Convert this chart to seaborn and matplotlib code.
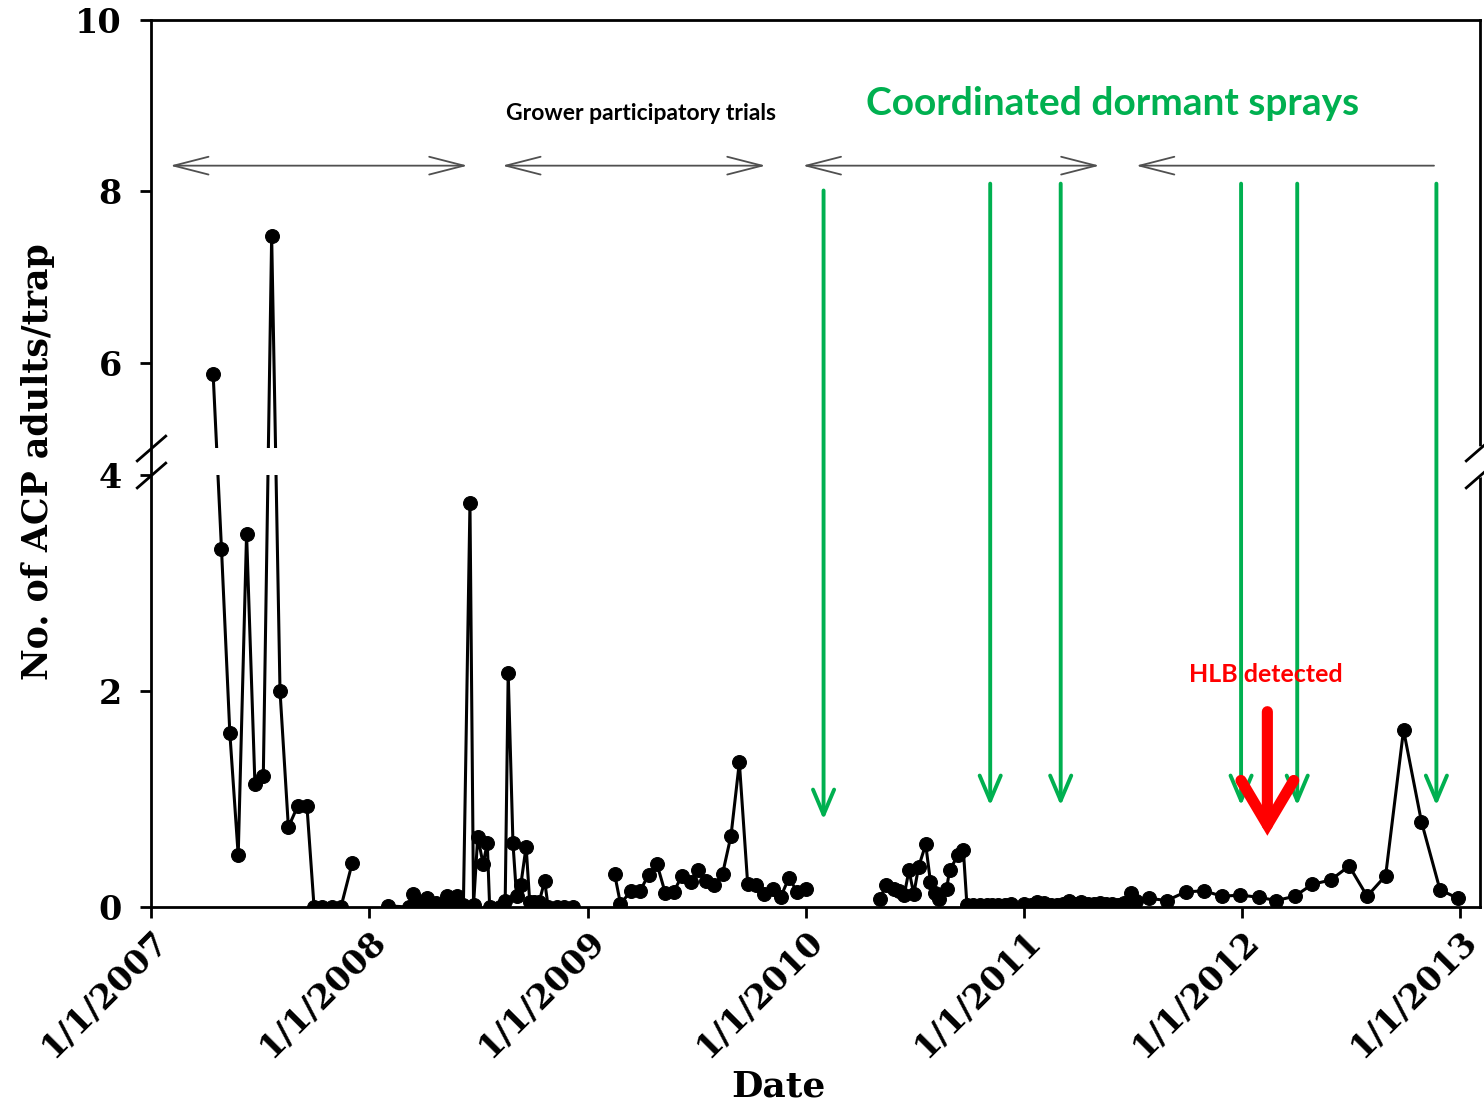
import numpy as np
import pandas as pd
import matplotlib
matplotlib.use("Agg")
import matplotlib.pyplot as plt
import seaborn as sns

# ---------------- data ----------------
dates = [
    # 2007
    "2007-04-15", "2007-04-29", "2007-05-13", "2007-05-27", "2007-06-10", "2007-06-24",
    "2007-07-08", "2007-07-22", "2007-08-05", "2007-08-19", "2007-09-04", "2007-09-19",
    "2007-10-01", "2007-10-15", "2007-10-31", "2007-11-15", "2007-12-04",
    # 2008
    "2008-02-01", "2008-03-08", "2008-03-14", "2008-03-18", "2008-03-25", "2008-04-01",
    "2008-04-07", "2008-04-15", "2008-04-22", "2008-04-30", "2008-05-11", "2008-05-19",
    "2008-05-27", "2008-06-07", "2008-06-18", "2008-06-24", "2008-07-01", "2008-07-10",
    "2008-07-17", "2008-07-21", "2008-08-07", "2008-08-16", "2008-08-21", "2008-08-29",
    "2008-09-04", "2008-09-11", "2008-09-20", "2008-09-26", "2008-10-04", "2008-10-12",
    "2008-10-21", "2008-10-27", "2008-11-11", "2008-11-23", "2008-12-07",
    # 2009
    "2009-02-15", "2009-02-25", "2009-03-15", "2009-03-30", "2009-04-13", "2009-04-27",
    "2009-05-11", "2009-05-25", "2009-06-08", "2009-06-23", "2009-07-04", "2009-07-18",
    "2009-08-01", "2009-08-15", "2009-08-29", "2009-09-12", "2009-09-26", "2009-10-10",
    "2009-10-24", "2009-11-07", "2009-11-20", "2009-12-04", "2009-12-18", "2010-01-02",
    # 2010
    "2010-05-05", "2010-05-15", "2010-05-29", "2010-06-07", "2010-06-15", "2010-06-23",
    "2010-07-01", "2010-07-09", "2010-07-21", "2010-07-29", "2010-08-06", "2010-08-12",
    "2010-08-25", "2010-08-30", "2010-09-13", "2010-09-22", "2010-09-28", "2010-10-09",
    "2010-10-20", "2010-10-31", "2010-11-09", "2010-11-19", "2010-11-30", "2010-12-11",
    # 2011
    "2011-01-02", "2011-01-13", "2011-01-24", "2011-02-04", "2011-02-15", "2011-02-25",
    "2011-03-08", "2011-03-18", "2011-03-28", "2011-04-07", "2011-04-18", "2011-04-28",
    "2011-05-08", "2011-05-19", "2011-05-29", "2011-06-08", "2011-06-18", "2011-06-29",
    "2011-07-08", "2011-07-30", "2011-08-29", "2011-09-29", "2011-10-30", "2011-11-29",
    "2011-12-30",
    # 2012
    "2012-01-30", "2012-02-28", "2012-03-30", "2012-04-28", "2012-05-29", "2012-06-29",
    "2012-07-29", "2012-08-29", "2012-09-28", "2012-10-28", "2012-11-28", "2012-12-28",
]
adults_per_trap = [
    # 2007
    5.87, 3.32, 1.61, 0.48, 3.46, 1.14,
    1.21, 7.48, 2.00, 0.74, 0.94, 0.94,
    0.00, 0.00, 0.00, 0.00, 0.41,
    # 2008
    0.01, 0.00, 0.12, 0.02, 0.05, 0.02,
    0.08, 0.02, 0.04, 0.02, 0.10, 0.03,
    0.10, 0.02, 3.74, 0.02, 0.65, 0.40,
    0.59, 0.00, 0.00, 0.06, 2.17, 0.59,
    0.10, 0.20, 0.56, 0.05, 0.05, 0.05,
    0.24, 0.00, 0.00, 0.00, 0.00,
    # 2009
    0.31, 0.03, 0.15, 0.15, 0.30, 0.40,
    0.13, 0.14, 0.29, 0.23, 0.34, 0.24,
    0.20, 0.31, 0.66, 1.34, 0.21, 0.20,
    0.12, 0.17, 0.09, 0.27, 0.14, 0.17,
    # 2010
    0.07, 0.20, 0.17, 0.15, 0.11, 0.34,
    0.12, 0.37, 0.58, 0.23, 0.13, 0.07,
    0.17, 0.34, 0.48, 0.53, 0.02, 0.02,
    0.02, 0.02, 0.02, 0.02, 0.02, 0.03,
    # 2011
    0.03, 0.02, 0.05, 0.04, 0.02, 0.02,
    0.03, 0.06, 0.03, 0.05, 0.03, 0.03,
    0.04, 0.03, 0.03, 0.02, 0.04, 0.13,
    0.06, 0.08, 0.06, 0.14, 0.15, 0.10,
    0.11,
    # 2012
    0.09, 0.06, 0.10, 0.21, 0.25, 0.38,
    0.10, 0.29, 1.64, 0.79, 0.16, 0.08,
]
year_ticks = ["2007-01-01", "2008-01-01", "2009-01-01", "2010-01-01",
              "2011-01-01", "2012-01-01", "2013-01-01"]
year_labels = ["1/1/2007", "1/1/2008", "1/1/2009", "1/1/2010",
               "1/1/2011", "1/1/2012", "1/1/2013"]
y_ticks = [0, 2, 4, 6, 8, 10]

spray_dates = ["2010-01-31", "2010-11-06", "2011-03-04", "2011-12-31", "2012-04-03", "2012-11-22"]
hlb_date = "2012-02-13"
period_spans = [("2007-02-02", "2008-06-14"), ("2008-08-11", "2009-10-26"),
                ("2009-12-27", "2011-05-08"), ("2011-07-08", "2012-11-18")]

# ---------------- table ----------------
df = pd.DataFrame({"date": pd.to_datetime(dates), "acp": adults_per_trap})
df["season"] = (df["date"].diff().dt.days > 45).cumsum()

# ---------------- style ----------------
sns.set_theme(style="ticks")
plt.rcParams["font.family"] = ["DejaVu Serif"]
plt.rcParams["font.weight"] = "bold"

fig = plt.figure(figsize=(14.84, 11.06), dpi=100)
ax = fig.add_axes([151 / 1484, 1 - 907 / 1106, (1480 - 151) / 1484, (907 - 20) / 1106])

# broken y-axis: 0-4 lower part, 5-10 upper part
_YD = [-10, 0, 4, 5, 10, 20]
_YP = [-1080, 0, 432, 459, 887.75, 1745.25]
def fwd(y):
    return np.interp(y, _YD, _YP)
def inv(p):
    return np.interp(p, _YP, _YD)
ax.set_yscale("function", functions=(fwd, inv))

sns.lineplot(data=df, x="date", y="acp", units="season", estimator=None,
             color="black", lw=2.2, marker="o", markersize=10,
             markeredgecolor="black", markerfacecolor="black", ax=ax, zorder=2)

ax.set_ylim(0, 10)
ax.set_xlim(pd.Timestamp("2007-01-01"), pd.Timestamp("2013-02-03"))

# hide lines in break band
ax.axhspan(4, 5, color="white", zorder=2.2, lw=0)

for s in ax.spines.values():
    s.set_color("black")
    s.set_linewidth(2.0)

ax.set_yticks(y_ticks)
ax.set_yticklabels([str(t) for t in y_ticks])
ax.set_xticks(pd.to_datetime(year_ticks))
ax.set_xticklabels(year_labels, rotation=45, ha="right", rotation_mode="anchor")
ax.tick_params(axis="both", direction="out", length=8, width=2, color="black",
               labelcolor="black")
ax.tick_params(axis="y", pad=13, labelsize=24)
ax.tick_params(axis="x", pad=4, labelsize=24)
for lab in ax.get_xticklabels() + ax.get_yticklabels():
    lab.set_fontweight("bold")

ax.set_xlabel("Date", fontsize=26, fontweight="bold", color="black")
ax.set_ylabel("No. of ACP adults/trap", fontsize=25, fontweight="bold", color="black")
ax.xaxis.set_label_coords(0.472, -0.183)
ax.yaxis.set_label_coords(-0.072, 0.502)

# break marks
ytr = ax.get_yaxis_transform()
slash = [(-1, -0.87), (1, 0.87)]
ax.plot([1, 1], [4.02, 4.98], color="white", lw=4, transform=ytr, clip_on=False, zorder=3)
for xa in (0, 1):
    for yb in (4, 5):
        ax.plot([xa], [yb], marker=slash, ms=22, mew=2, color="black", ls="none",
                transform=ytr, clip_on=False, zorder=4)

# horizontal period arrows
for i, (a, b) in enumerate(period_spans):
    style = "<->" if i < 3 else "<-"
    ax.annotate("", xy=(pd.Timestamp(b), 8.3), xytext=(pd.Timestamp(a), 8.3),
                arrowprops=dict(arrowstyle=f"{style},head_length=1.25,head_width=0.32",
                                color="#505050", lw=1.3, shrinkA=0, shrinkB=0,
                                mutation_scale=20))

# green spray arrows
for i, d in enumerate(spray_dates):
    y0 = 8.01 if i == 0 else 8.09
    y1 = 0.81 if i == 0 else 0.94
    ax.annotate("", xy=(pd.Timestamp(d), y1), xytext=(pd.Timestamp(d), y0),
                arrowprops=dict(arrowstyle="->,head_length=0.9,head_width=0.38",
                                color="#00B050", lw=2.8, shrinkA=0, shrinkB=0,
                                mutation_scale=20), zorder=5)

# red HLB arrow
ax.annotate("", xy=(pd.Timestamp(hlb_date), 0.66), xytext=(pd.Timestamp(hlb_date), 1.81),
            arrowprops=dict(arrowstyle="->,head_length=1.6,head_width=0.95",
                            color="#FF0000", lw=8, shrinkA=0, shrinkB=0,
                            mutation_scale=20, capstyle="round", joinstyle="miter"),
            zorder=6)

sans = ["Lato", "DejaVu Sans"]
ax.text(pd.Timestamp("2009-03-31"), 8.91, "Grower participatory trials", ha="center",
        va="center", fontsize=16.5, fontweight="bold", color="black", family=sans)
ax.text(pd.Timestamp("2011-05-30"), 9.02, "Coordinated dormant sprays", ha="center",
        va="center", fontsize=28, fontweight="bold", color="#00B050", family=sans)
ax.text(pd.Timestamp("2012-02-10"), 2.15, "HLB detected", ha="center",
        va="center", fontsize=18, fontweight="bold", color="#FF0000", family=sans, zorder=7)

fig.savefig("out.png", dpi=100, facecolor="white")
